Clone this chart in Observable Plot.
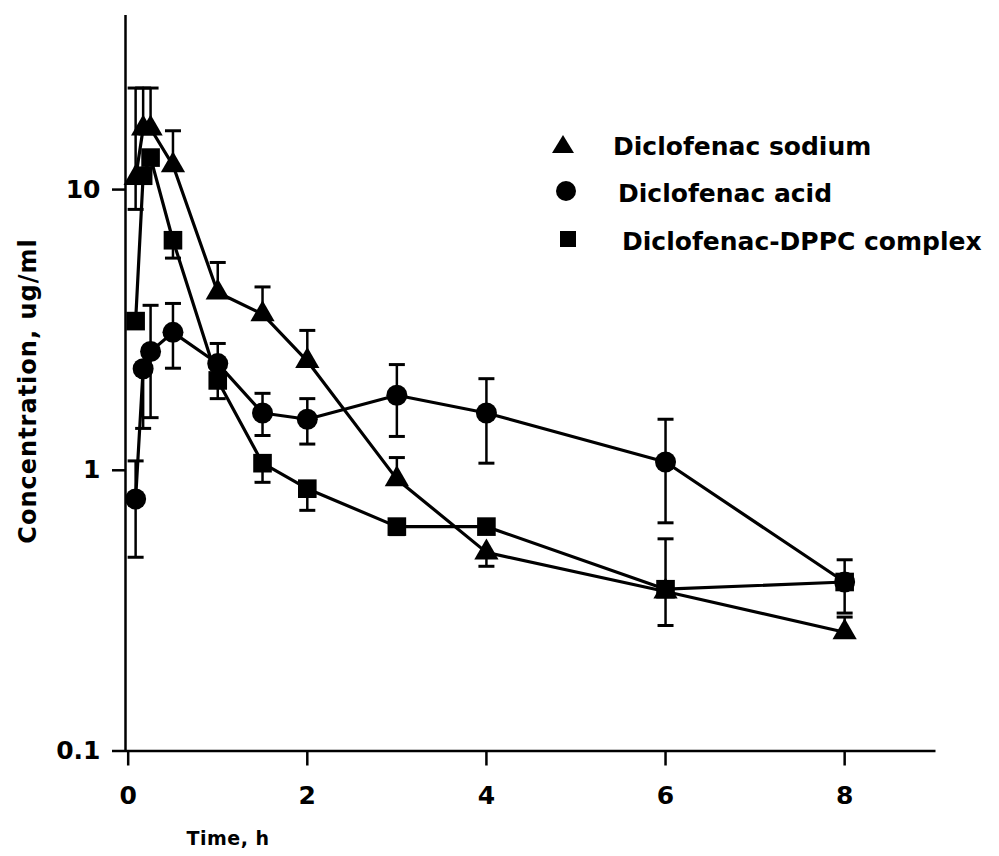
<!DOCTYPE html>
<html>
<head>
<meta charset="utf-8">
<script src="https://cdn.jsdelivr.net/npm/d3@7"></script>
<script src="https://cdn.jsdelivr.net/npm/@observablehq/plot@0.6"></script>
<style>
  html, body { margin: 0; padding: 0; background: #fff; }
  #wrap { position: relative; width: 999px; height: 856px; font-family: "DejaVu Sans", sans-serif; font-weight: bold; color: #000; }
  #wrap svg.plot { position: absolute; left: 0; top: 0; }
  .ylab { position: absolute; left: 28px; top: 391px; transform: translate(-50%, -50%) rotate(-90deg); white-space: nowrap; font-size: 24px; letter-spacing: 1px; }
  .xlab { position: absolute; left: 228px; top: 838px; transform: translate(-50%, -50%); white-space: nowrap; font-size: 19px; letter-spacing: 0.5px; }
  .leg { position: absolute; white-space: nowrap; font-size: 25px; transform: translateY(-50%); }
  .legsym { position: absolute; transform: translate(-50%, -50%); }
</style>
</head>
<body>
<div id="wrap"></div>
<script>
// Sampling times (h)
const times = [0.083, 0.167, 0.25, 0.5, 1, 1.5, 2, 3, 4, 6, 8];

// Diclofenac sodium (triangles): mean and error-bar ends
const sodium   = [11, 16.5, 16.5, 12.2, 4.3, 3.6, 2.45, 0.93, 0.51, 0.37, 0.265];
const sodiumHi = [23, 23, 23, 16.2, 5.5, 4.5, 3.15, 1.11, null, null, 0.30];
const sodiumLo = [8.5, null, null, null, null, null, null, null, 0.455, 0.28, null];

// Diclofenac acid (circles)
const acid   = [0.79, 2.3, 2.65, 3.1, 2.4, 1.6, 1.52, 1.85, 1.6, 1.07, 0.40];
const acidHi = [1.08, null, 3.87, 3.93, 2.83, 1.88, 1.80, 2.38, 2.12, 1.52, null];
const acidLo = [0.49, 1.41, 1.54, 2.31, null, 1.33, 1.24, 1.32, 1.06, 0.65, 0.31];

// Diclofenac-DPPC complex (squares)
const dppc   = [3.4, 11.2, 13, 6.6, 2.09, 1.06, 0.86, 0.63, 0.63, 0.377, 0.40];
const dppcHi = [null, null, null, null, null, null, null, null, null, 0.57, 0.48];
const dppcLo = [null, null, null, 5.7, 1.8, 0.906, 0.72, 0.59, null, null, null];

const seriesNames = ["Diclofenac sodium", "Diclofenac acid", "Diclofenac-DPPC complex"];
const xTicks = [0, 2, 4, 6, 8];
const yTicks = [0.1, 1, 10];
const xTitle = "Time, h";
const yTitle = "Concentration, ug/ml";

function build(name, vals, hi, lo) {
  return times.map((t, i) => ({series: name, t, v: vals[i], hi: hi[i], lo: lo[i]}));
}
const rows = [
  ...build(seriesNames[0], sodium, sodiumHi, sodiumLo),
  ...build(seriesNames[1], acid, acidHi, acidLo),
  ...build(seriesNames[2], dppc, dppcHi, dppcLo)
];
const hiRows = rows.filter(d => d.hi != null);
const loRows = rows.filter(d => d.lo != null);

const cap = { draw(context) { context.moveTo(-8, 0); context.lineTo(8, 0); } };

const xDomain = [-0.03, 9.02];
const yDomain = [0.1, 41.7];

const chart = Plot.plot({
  width: 999,
  height: 856,
  marginLeft: 125,
  marginRight: 63.5,
  marginTop: 15,
  marginBottom: 105.5,
  style: {fontFamily: "DejaVu Sans, sans-serif", fontWeight: "bold", background: "#fff", color: "#000"},
  x: {domain: xDomain},
  y: {type: "log", domain: yDomain},
  marks: [
    Plot.ruleY([yDomain[0]], {stroke: "black", strokeWidth: 2.5}),
    Plot.ruleX([xDomain[0]], {stroke: "black", strokeWidth: 2.5}),
    Plot.axisX({ticks: xTicks, tickSize: 15, tickPadding: 20, fontSize: 25, fontWeight: "bold", label: null, strokeWidth: 2.5, tickFormat: d => String(d)}),
    Plot.axisY({ticks: yTicks, tickSize: 13, tickPadding: 12, fontSize: 25, fontWeight: "bold", label: null, strokeWidth: 2.5, tickFormat: d => (d < 1 ? "0.1" : String(d))}),
    Plot.ruleX(hiRows, {x: "t", y1: "v", y2: "hi", stroke: "black", strokeWidth: 2.5}),
    Plot.ruleX(loRows, {x: "t", y1: "v", y2: "lo", stroke: "black", strokeWidth: 2.5}),
    Plot.dot(hiRows, {x: "t", y: "hi", symbol: cap, stroke: "black", strokeWidth: 3, fill: "none"}),
    Plot.dot(loRows, {x: "t", y: "lo", symbol: cap, stroke: "black", strokeWidth: 3, fill: "none"}),
    Plot.line(rows, {x: "t", y: "v", z: "series", stroke: "black", strokeWidth: 3.2}),
    Plot.dot(rows.filter(d => d.series === seriesNames[1]), {x: "t", y: "v", symbol: "circle", r: 10.5, fill: "black", stroke: "none"}),
    Plot.dot(rows.filter(d => d.series === seriesNames[2]), {x: "t", y: "v", symbol: "square", r: 10.5, fill: "black", stroke: "none"}),
    Plot.dot(rows.filter(d => d.series === seriesNames[0]), {x: "t", y: "v", symbol: "triangle", r: 9, fill: "black", stroke: "none"})
  ]
});
chart.classList.add("plot");

const wrap = document.getElementById("wrap");
wrap.appendChild(chart);

const yl = document.createElement("div");
yl.className = "ylab"; yl.textContent = yTitle; wrap.appendChild(yl);
const xl = document.createElement("div");
xl.className = "xlab"; xl.textContent = xTitle; wrap.appendChild(xl);

// Legend
const legend = [
  {name: seriesNames[0], sym: "triangle", sx: 563, sy: 146, tx: 613},
  {name: seriesNames[1], sym: "circle", sx: 566, sy: 193, tx: 618},
  {name: seriesNames[2], sym: "square", sx: 568, sy: 241, tx: 622}
];
const shapes = {
  triangle: '<svg width="26" height="22" viewBox="-13 -11 26 22"><path d="M0,-9L11,9L-11,9Z" fill="black"/></svg>',
  circle: '<svg width="22" height="22" viewBox="-11 -11 22 22"><circle r="10" fill="black"/></svg>',
  square: '<svg width="18" height="18" viewBox="-9 -9 18 18"><rect x="-8" y="-8" width="16" height="16" fill="black"/></svg>'
};
legend.forEach(l => {
  const s = document.createElement("div");
  s.className = "legsym"; s.style.left = l.sx + "px"; s.style.top = l.sy + "px";
  s.innerHTML = shapes[l.sym]; wrap.appendChild(s);
  const t = document.createElement("div");
  t.className = "leg"; t.style.left = l.tx + "px"; t.style.top = l.sy + "px";
  t.textContent = l.name; wrap.appendChild(t);
});
</script>
</body>
</html>
